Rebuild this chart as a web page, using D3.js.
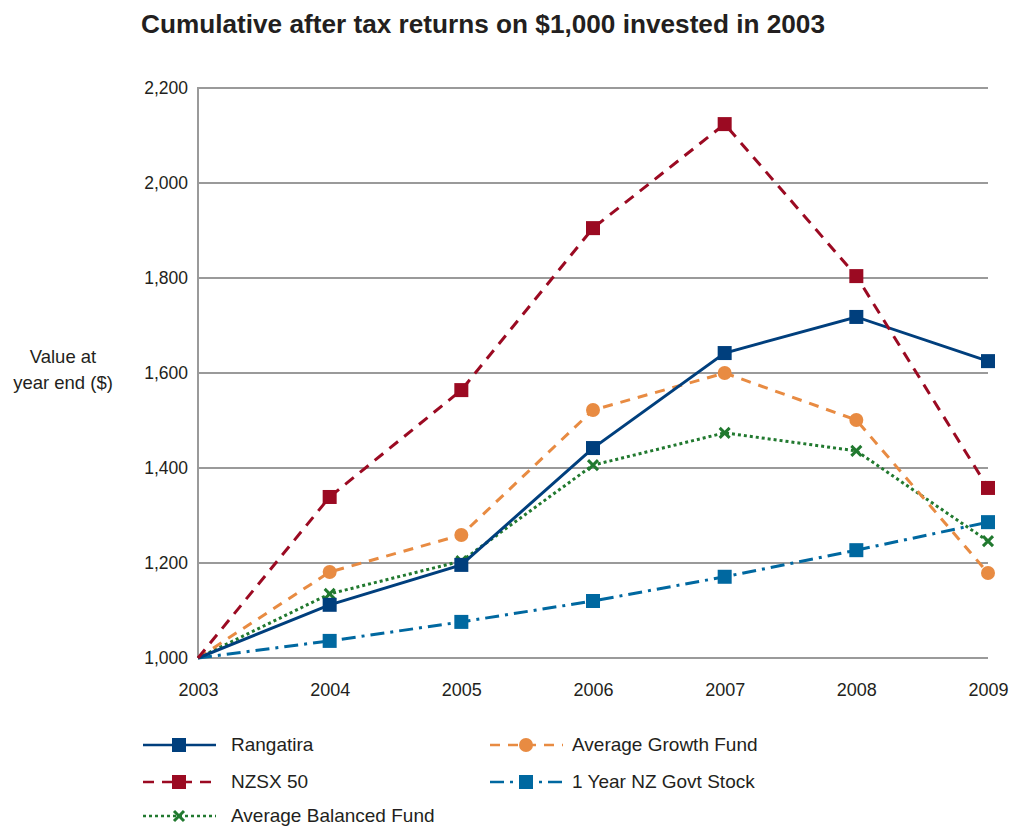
<!DOCTYPE html>
<html>
<head>
<meta charset="utf-8">
<script src="https://cdn.jsdelivr.net/npm/d3@7"></script>
<style>
  body { margin: 0; background: #fff; }
  text { font-family: "Liberation Sans", Arial, sans-serif; fill: #231f20; }
</style>
</head>
<body>
<svg id="chart"></svg>
<script>
const years = [2003, 2004, 2005, 2006, 2007, 2008, 2009];
const rangatira = [1000, 1112, 1196, 1442, 1642, 1718, 1625];
const nzsx50 = [1000, 1339, 1564, 1905, 2124, 1804, 1358];
const growthFund = [1000, 1181, 1259, 1522, 1600, 1501, 1179];
const govtStock = [1000, 1036, 1076, 1120, 1171, 1227, 1286];
const balancedFund = [1000, 1135, 1204, 1406, 1474, 1436, 1246];
const yTicks = [1000, 1200, 1400, 1600, 1800, 2000, 2200];

const series = [
  { name: "Rangatira", values: rangatira, color: "#003f7d", dash: null, marker: "square" },
  { name: "NZSX 50", values: nzsx50, color: "#9b0a22", dash: "11,8", marker: "square" },
  { name: "Average Balanced Fund", values: balancedFund, color: "#21792f", dash: "3,3", marker: "cross" },
  { name: "Average Growth Fund", values: growthFund, color: "#e88b42", dash: "10,8", marker: "circle" },
  { name: "1 Year NZ Govt Stock", values: govtStock, color: "#0068a0", dash: "14,6,3,6", marker: "square" }
];

const width = 1011, height = 827;
const svg = d3.select("#chart").attr("width", width).attr("height", height);

const x = d3.scaleLinear().domain([2003, 2009]).range([198, 988]);
const y = d3.scaleLinear().domain([1000, 2200]).range([658, 88]);

// title (condensed look via textLength)
svg.append("text")
  .attr("x", 141).attr("y", 33)
  .attr("font-size", 26).attr("font-weight", "bold")
  .attr("textLength", 684).attr("lengthAdjust", "spacingAndGlyphs")
  .text("Cumulative after tax returns on $1,000 invested in 2003");

// gridlines
svg.append("g").selectAll("line")
  .data(yTicks).enter().append("line")
  .attr("x1", x(2003)).attr("x2", x(2009))
  .attr("y1", d => y(d)).attr("y2", d => y(d))
  .attr("stroke", "#9a9a9a").attr("stroke-width", 2);

svg.append("line")
  .attr("x1", x(2003)).attr("x2", x(2003))
  .attr("y1", y(2200) - 1).attr("y2", y(1000))
  .attr("stroke", "#9a9a9a").attr("stroke-width", 2);

// y axis labels
const yAxis = d3.axisLeft(y).tickValues(yTicks).tickSize(0).tickPadding(10)
  .tickFormat(d3.format(","));
const yg = svg.append("g").attr("transform", `translate(${x(2003)},0)`).call(yAxis);
yg.select(".domain").remove();
yg.selectAll("text").attr("font-size", 17.5).style("font-family", "'Liberation Sans', sans-serif").attr("fill", "#231f20");

// x axis labels
const xAxis = d3.axisBottom(x).tickValues(years).tickSize(0).tickPadding(0)
  .tickFormat(d3.format("d"));
const xg = svg.append("g").attr("transform", `translate(0,${y(1000) + 25})`).call(xAxis);
xg.select(".domain").remove();
xg.selectAll("text").attr("font-size", 18)
  .style("font-family", "'Liberation Sans', sans-serif").attr("fill", "#231f20");

// y title
const yt = svg.append("text").attr("text-anchor", "middle").attr("font-size", 18.5);
yt.append("tspan").attr("x", 63).attr("y", 363).text("Value at");
yt.append("tspan").attr("x", 63).attr("y", 389).text("year end ($)");

function drawMarker(g, type, cx, cy, color) {
  if (type === "square") {
    g.append("rect").attr("x", cx - 7).attr("y", cy - 7).attr("width", 14).attr("height", 14).attr("fill", color);
  } else if (type === "circle") {
    g.append("circle").attr("cx", cx).attr("cy", cy).attr("r", 7).attr("fill", color);
  } else {
    g.append("path")
      .attr("d", `M${cx - 5},${cy - 5}L${cx + 5},${cy + 5}M${cx - 5},${cy + 5}L${cx + 5},${cy - 5}`)
      .attr("stroke", color).attr("stroke-width", 3);
  }
}

const line = d3.line().x((d, i) => x(years[i])).y(d => y(d));

// draw order: govt, balanced, growth, rangatira, nzsx
const order = [4, 2, 3, 0, 1];
order.forEach(k => {
  const s = series[k];
  const g = svg.append("g");
  g.append("path")
    .attr("d", line(s.values))
    .attr("fill", "none")
    .attr("stroke", s.color)
    .attr("stroke-width", 3)
    .attr("stroke-dasharray", s.dash);
  s.values.forEach((v, i) => {
    if (i > 0) drawMarker(g, s.marker, x(years[i]), y(v), s.color);
  });
});

// legend
const legendPos = [
  { k: 0, lx: 143, ly: 745 },
  { k: 1, lx: 143, ly: 782 },
  { k: 2, lx: 143, ly: 816 },
  { k: 3, lx: 490, ly: 745 },
  { k: 4, lx: 490, ly: 782 }
];
legendPos.forEach(p => {
  const s = series[p.k];
  const g = svg.append("g");
  g.append("line")
    .attr("x1", p.lx).attr("x2", p.lx + 73)
    .attr("y1", p.ly).attr("y2", p.ly)
    .attr("stroke", s.color).attr("stroke-width", 2.5)
    .attr("stroke-dasharray", s.dash);
  drawMarker(g, s.marker, p.lx + 36, p.ly, s.color);
  g.append("text")
    .attr("x", p.lx + (p.k < 3 ? 88 : 82)).attr("y", p.ly + 6)
    .attr("font-size", 19)
    .text(s.name);
});
</script>
</body>
</html>
